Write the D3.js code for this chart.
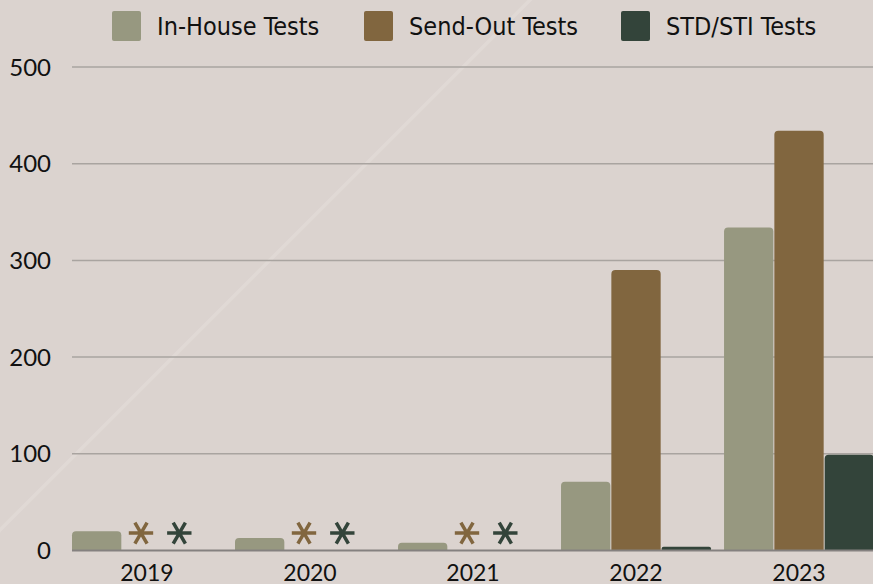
<!DOCTYPE html>
<html><head><meta charset="utf-8">
<script src="https://cdn.jsdelivr.net/npm/d3@7/dist/d3.min.js"></script>
<style>
html,body{margin:0;padding:0;background:#dbd3cf;overflow:hidden}
</style></head>
<body>
<svg id="chart" width="873" height="584"></svg>
<script>
const years = ["2019","2020","2021","2022","2023"];
const seriesNames = ["In-House Tests","Send-Out Tests","STD/STI Tests"];
const inHouse = [20, 13, 8, 71, 334];
const sendOut = [null, null, null, 290, 434];
const stdSti = [null, null, null, 4, 99];
const yTicks = [0,100,200,300,400,500];
const colors = ["#979880","#81663f","#33443a"];

const W = 873, H = 584;
const svg = d3.select("#chart");
const series = [inHouse, sendOut, stdSti];

// background
svg.append("rect").attr("width",W).attr("height",H).attr("fill","#dbd3cf");
svg.append("line").attr("x1",-10).attr("y1",540).attr("x2",540).attr("y2",-10)
  .attr("stroke","#e0d9d5").attr("stroke-width",3.5);

const y = d3.scaleLinear().domain([0,500]).range([550.5,67]);
const x0 = d3.scaleBand().domain(years).range([72,874]).paddingInner(0.08).paddingOuter(0);
const x1 = d3.scaleBand().domain(seriesNames).range([0,x0.bandwidth()]).paddingInner(0.02);
// missing-value marker offsets within the bar slot
const markerShift = [0, -6, -18];

const axisFont = "Lato, 'Open Sans', sans-serif";

// gridlines
svg.append("g").selectAll("line").data(yTicks.filter(d=>d>0)).join("line")
  .attr("x1",72).attr("x2",W).attr("y1",d=>y(d)).attr("y2",d=>y(d))
  .attr("stroke","#a9a4a0").attr("stroke-width",1.5);

// y labels
svg.append("g").selectAll("text").data(yTicks).join("text")
  .attr("x",51).attr("y",d=>y(d)).attr("dy","0.36em").attr("text-anchor","end")
  .attr("font-family",axisFont).attr("font-size",24).attr("fill","#111")
  .text(d=>d);

// bars
const groups = svg.append("g").selectAll("g").data(years).join("g")
  .attr("transform",d=>`translate(${x0(d)},0)`);

groups.each(function(yr,i){
  const g = d3.select(this);
  seriesNames.forEach((s,j)=>{
    const v = series[j][i];
    if (v === null) {
      const cx = x1(s)+x1.bandwidth()/2 + markerShift[j];
      g.append("path").attr("d", d3.symbol(d3.symbolAsterisk, 420)())
        .attr("transform",`translate(${cx},${y(18)}) rotate(90)`)
        .attr("fill","none").attr("stroke",colors[j]).attr("stroke-width",3.5);
    } else {
      const top = y(v), h = y(0)-top;
      const r = Math.min(4, h/2);
      const xa = x1(s), xb = x1(s)+x1.bandwidth();
      g.append("path")
        .attr("d", `M${xa},${y(0)}V${top+r}Q${xa},${top} ${xa+r},${top}H${xb-r}Q${xb},${top} ${xb},${top+r}V${y(0)}Z`)
        .attr("fill",colors[j]);
    }
  });
});

// baseline
svg.append("line").attr("x1",72).attr("x2",W).attr("y1",y(0)).attr("y2",y(0))
  .attr("stroke","#858180").attr("stroke-width",2);

// x labels
svg.append("g").selectAll("text").data(years).join("text")
  .attr("x",d=>x0(d)+x0.bandwidth()/2).attr("y",581).attr("text-anchor","middle")
  .attr("font-family",axisFont).attr("font-size",23).attr("fill","#111")
  .text(d=>d);

// legend
const legX = [112, 364, 621];
const leg = svg.append("g").selectAll("g").data(seriesNames).join("g")
  .attr("transform",(d,i)=>`translate(${legX[i]},11)`);
leg.append("rect").attr("width",29).attr("height",30).attr("rx",2).attr("fill",(d,i)=>colors[i]);
leg.append("text").attr("x",45).attr("y",15).attr("dy","0.36em")
  .attr("font-family","'Liberation Sans Narrow','DejaVu Sans Condensed',sans-serif")
  .attr("font-size",25).attr("fill","#111").text(d=>d);
</script>
</body></html>
